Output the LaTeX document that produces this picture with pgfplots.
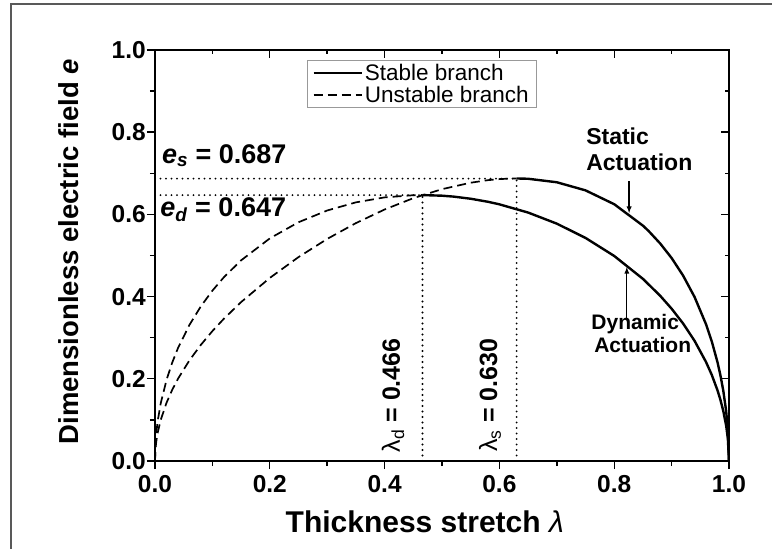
\documentclass[border=0pt]{standalone}
\usepackage{pgfplots}
\pgfplotsset{compat=1.18}
\usepackage{fontspec}
\setmainfont{Liberation Sans}
\begin{document}
\begin{tikzpicture}
\useasboundingbox (-155pt,-88pt) rectangle (617pt,461pt);
\draw[gray!70!black, line width=1.2pt] (-144pt,-100pt) -- (-144pt,457pt) -- (640pt,457pt);
\pgfplotsset{
  every axis/.append style={
    at={(0,0)}, anchor=south west, scale only axis,
    width=574pt, height=411pt,
    xmin=0, xmax=1, ymin=0, ymax=1,
    xtick={0,0.2,0.4,0.6,0.8,1}, ytick={0,0.2,0.4,0.6,0.8,1},
    minor tick num=1,
    axis line style={line width=1.6pt},
    every tick/.style={line width=1.4pt, black},
  }
}
% mirrored inner ticks
\begin{axis}[xtick pos=right, ytick pos=right, tick align=inside,
  major tick length=8pt, minor tick length=4pt,
  xticklabels={}, yticklabels={}]
\addplot[draw=none] coordinates {(0,0)};
\end{axis}
\begin{axis}[xtick pos=left, ytick pos=left, tick align=outside,
  major tick length=8pt, minor tick length=5pt,
  /pgf/number format/assume math mode=true,
  /pgf/number format/.cd, fixed, fixed zerofill, precision=1, /pgfplots/.cd,
  ticklabel style={font=\bfseries\fontsize{24.5}{24.5}\selectfont},
  xticklabel style={inner sep=1pt, yshift=-5pt},
  yticklabel style={inner sep=1pt},
  xlabel={\textbf{Thickness stretch} {\mdseries\itshape λ}},
  xlabel style={font=\fontsize{30}{30}\selectfont, at={(axis description cs:0.47,-0.175)}, anchor=base},
  ylabel={\textbf{Dimensionless electric field \textit{e}}},
  ylabel style={font=\fontsize{27.5}{27.5}\selectfont, at={(axis description cs:-0.134,0.509)}, anchor=base},
  legend style={at={(0.265,0.976)}, anchor=north west, draw=gray!80,
    font=\fontsize{22.5}{24}\selectfont, inner xsep=5pt, inner ysep=2pt,
    row sep=0pt, cells={anchor=west}},
]
\addlegendimage{legend image code/.code={\draw[black, line width=2.6pt] (0pt,0pt) -- (48pt,0pt);}}
\addlegendentry{Stable branch}
\addlegendimage{legend image code/.code={\draw[black, line width=1.9pt, dash pattern=on 9pt off 5pt] (0pt,0pt) -- (48pt,0pt);}}
\addlegendentry{Unstable branch}

% Static actuation, unstable branch
\addplot[forget plot, black, line width=1.7pt, dash pattern=on 9pt off 5pt] coordinates {
(0,0) (0.001,0.0316) (0.002,0.0447) (0.003,0.0548) (0.005,0.0707) (0.01,0.1) (0.02,0.1414)
(0.03,0.1732) (0.04,0.2) (0.06,0.2449) (0.08,0.2828) (0.1,0.3161) (0.12,0.3461) (0.15,0.3866)
(0.2,0.4454) (0.25,0.4961) (0.3,0.5403) (0.35,0.5788) (0.4,0.6119) (0.45,0.6395)
(0.5,0.6614) (0.55,0.6771) (0.58,0.6833) (0.6,0.6859) (0.62,0.6872) (0.63,0.6874)};
% Static actuation, stable branch
\addplot[forget plot, black, line width=2.4pt] coordinates {
(0.63,0.6874) (0.65,0.6867) (0.7,0.6782) (0.75,0.6585) (0.8,0.6248) (0.85,0.5727)
(0.86,0.5595) (0.88,0.5294) (0.9,0.4939) (0.92,0.4512) (0.94,0.3991) (0.96,0.3326)
(0.97,0.2910) (0.98,0.2401) (0.985,0.2090) (0.99,0.1715) (0.995,0.1219) (0.998,0.0773) (1,0)};
% Dynamic actuation, unstable branch
\addplot[forget plot, black, line width=1.7pt, dash pattern=on 9pt off 5pt] coordinates {
(0,0) (0.001,0.0447) (0.002,0.0632) (0.003,0.0773) (0.005,0.0996) (0.01,0.1404) (0.02,0.1970)
(0.03,0.2395) (0.04,0.2745) (0.06,0.3311) (0.08,0.3765) (0.1,0.4145) (0.12,0.4471) (0.15,0.4882)
(0.2,0.5416) (0.25,0.5809) (0.3,0.6095) (0.35,0.6293) (0.4,0.6414) (0.45,0.6467) (0.466,0.6470)};
% Dynamic actuation, stable branch
\addplot[forget plot, black, line width=2.4pt] coordinates {
(0.466,0.6470) (0.5,0.6455) (0.52,0.6433) (0.55,0.6381) (0.58,0.6307) (0.6,0.6245) (0.65,0.6045)
(0.7,0.5775) (0.75,0.5428) (0.8,0.4989) (0.85,0.4432) (0.88,0.4022) (0.9,0.3706) (0.92,0.3346)
(0.94,0.2924) (0.96,0.2408) (0.97,0.2095) (0.98,0.1718) (0.985,0.1491) (0.99,0.1220)
(0.995,0.0864) (0.998,0.0547) (1,0)};
% dotted guide lines
\pgfplotsset{dotguide/.style={forget plot, black, line width=2.1pt, line cap=round, dash pattern=on 0pt off 5.5pt}}
\addplot[dotguide] coordinates {(0,0.687) (0.63,0.687)};
\addplot[dotguide] coordinates {(0.63,0) (0.63,0.687)};
\addplot[dotguide] coordinates {(0,0.647) (0.466,0.647)};
\addplot[dotguide] coordinates {(0.466,0) (0.466,0.647)};

% annotations
\node[anchor=base west, inner sep=0pt, font=\bfseries\fontsize{27}{27}\selectfont] at (axis cs:0.012,0.725) {\textit{e}\textsubscript{\textit{s}} = 0.687};
\node[anchor=base west, inner sep=0pt, font=\bfseries\fontsize{27}{27}\selectfont] at (axis cs:0.009,0.596) {\textit{e}\textsubscript{\textit{d}} = 0.647};
\node[rotate=90, anchor=center, inner sep=0pt, font=\fontsize{25}{25}\selectfont] at (axis cs:0.4146,0.16) {λ\textsubscript{d} \textbf{= 0.466}};
\node[rotate=90, anchor=center, inner sep=0pt, font=\fontsize{25}{25}\selectfont] at (axis cs:0.5836,0.16) {λ\textsubscript{s} \textbf{= 0.630}};
\node[anchor=base west, inner sep=0pt, font=\bfseries\fontsize{23}{23}\selectfont] at (axis cs:0.751,0.769) {Static};
\node[anchor=base west, inner sep=0pt, font=\bfseries\fontsize{23}{23}\selectfont] at (axis cs:0.751,0.708) {Actuation};
\draw[-{latex}, line width=1.3pt] (axis cs:0.826,0.681) -- (axis cs:0.826,0.603);
\node[anchor=base west, inner sep=0pt, font=\bfseries\fontsize{21}{21}\selectfont] at (axis cs:0.760,0.319) {Dynamic};
\node[anchor=base west, inner sep=0pt, font=\bfseries\fontsize{21}{21}\selectfont] at (axis cs:0.765,0.263) {Actuation};
\draw[-{latex}, line width=1.3pt] (axis cs:0.822,0.348) -- (axis cs:0.822,0.472);
\end{axis}
\end{tikzpicture}
\end{document}
